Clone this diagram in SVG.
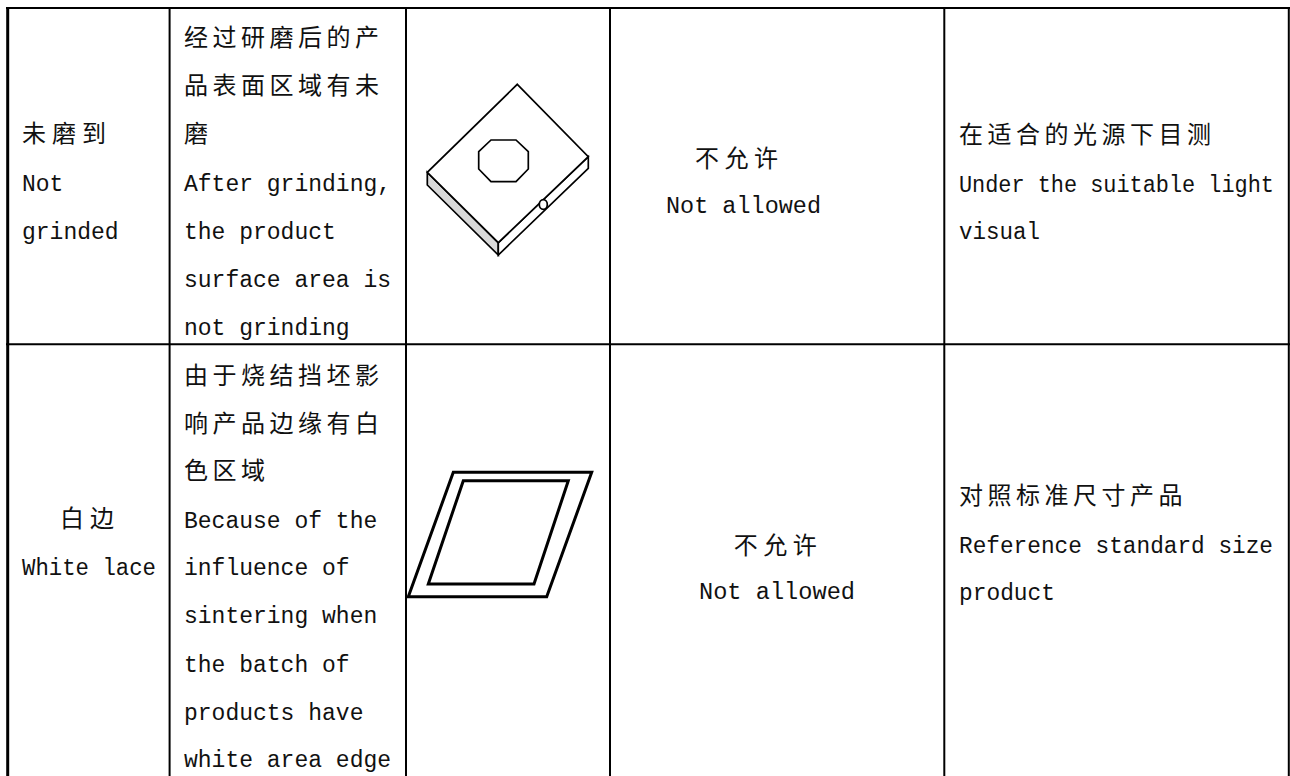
<svg xmlns="http://www.w3.org/2000/svg" width="1290" height="776" viewBox="0 0 1290 776">
<style>
.cj{font-family:'Noto Sans CJK SC','Noto Sans CJK JP',sans-serif;font-size:24px;fill:#111;letter-spacing:4.5px}
.la{font-family:'Liberation Mono','DejaVu Sans Mono',monospace;font-size:23px;fill:#111}
.ln{stroke:#000;stroke-width:2;fill:none}
.dr{stroke:#000;stroke-width:1.7;stroke-linejoin:miter;fill:#fff}
.pg{stroke:#000;stroke-width:3;fill:none;stroke-linejoin:miter}
</style>
<rect width="1290" height="776" fill="#fff"/>
<g id="grid">
<line class="ln" x1="6" y1="8" x2="1290" y2="8"/>
<line class="ln" x1="6" y1="344.3" x2="1290" y2="344.3"/>
<line class="ln" x1="7.7" y1="7" x2="7.7" y2="776" style="stroke-width:3"/>
<line class="ln" x1="169.6" y1="7" x2="169.6" y2="776"/>
<line class="ln" x1="406" y1="7" x2="406" y2="776"/>
<line class="ln" x1="610" y1="7" x2="610" y2="776"/>
<line class="ln" x1="944.3" y1="7" x2="944.3" y2="776"/>
<line class="ln" x1="1288.8" y1="7" x2="1288.8" y2="776"/>
</g>
<g id="connectors"></g>
<g id="r1-name">
<text class="cj" x="22" y="141.5" style="letter-spacing:6px">未磨到</text>
<text class="la" x="22" y="191">Not</text>
<text class="la" x="22" y="238.5">grinded</text>
</g>
<g id="r1-desc">
<text class="cj" x="184" y="45.5">经过研磨后的产</text>
<text class="cj" x="184" y="93.5">品表面区域有未</text>
<text class="cj" x="184" y="141.5">磨</text>
<text class="la" x="184" y="191">After grinding,</text>
<text class="la" x="184" y="238.5">the product</text>
<text class="la" x="184" y="286.5">surface area is</text>
<text class="la" x="184" y="334.5">not grinding</text>
</g>
<g id="r1-figure">
<polygon class="dr" points="427.3,172.3 498.3,242.7 498.3,255 427.3,185" style="fill:#d9d9d9"/>
<polygon class="dr" points="498.3,242.7 588.3,156.7 588.3,168.3 498.3,255"/>
<polygon class="dr" points="517.3,84.3 588.3,156.7 498.3,242.7 427.3,172.3"/>
<polygon class="dr" points="491,140 516,140 528.3,151.7 528.3,169 516,181.7 491,181.7 478.7,169 478.7,151.7"/>
<ellipse class="dr" cx="543.3" cy="204.5" rx="4" ry="4.8"/>
</g>
<g id="r1-limit">
<text class="cj" x="695" y="166.5" style="letter-spacing:5.5px">不允许</text>
<text class="la" x="666" y="213" textLength="155" lengthAdjust="spacingAndGlyphs">Not allowed</text>
</g>
<g id="r1-method">
<text class="cj" x="959" y="143">在适合的光源下目测</text>
<text class="la" x="959" y="191.5" textLength="315" lengthAdjust="spacingAndGlyphs">Under the suitable light</text>
<text class="la" x="959" y="238.5" textLength="81" lengthAdjust="spacingAndGlyphs">visual</text>
</g>
<g id="r2-name">
<text class="cj" x="90" y="526.5" text-anchor="middle" style="letter-spacing:6px">白边</text>
<text class="la" x="22" y="575" textLength="134" lengthAdjust="spacingAndGlyphs">White lace</text>
</g>
<g id="r2-desc">
<text class="cj" x="184" y="383.5">由于烧结挡坯影</text>
<text class="cj" x="184" y="431.5">响产品边缘有白</text>
<text class="cj" x="184" y="478.5">色区域</text>
<text class="la" x="184" y="528">Because of the</text>
<text class="la" x="184" y="575">influence of</text>
<text class="la" x="184" y="623">sintering when</text>
<text class="la" x="184" y="671.5">the batch of</text>
<text class="la" x="184" y="719.5">products have</text>
<text class="la" x="184" y="767">white area edge</text>
</g>
<g id="r2-figure">
<polygon class="pg" points="453.3,472.3 591.7,472.3 546.7,596.7 408.3,596.7"/>
<polygon class="pg" points="463.3,480.7 568.3,480.7 534,584 428.3,584"/>
</g>
<g id="r2-limit">
<text class="cj" x="778" y="553.5" text-anchor="middle" style="letter-spacing:5.5px">不允许</text>
<text class="la" x="699" y="599" textLength="156" lengthAdjust="spacingAndGlyphs">Not allowed</text>
</g>
<g id="r2-method">
<text class="cj" x="959" y="503.5">对照标准尺寸产品</text>
<text class="la" x="959" y="553" textLength="314" lengthAdjust="spacingAndGlyphs">Reference standard size</text>
<text class="la" x="959" y="600" textLength="96" lengthAdjust="spacingAndGlyphs">product</text>
</g>
</svg>
